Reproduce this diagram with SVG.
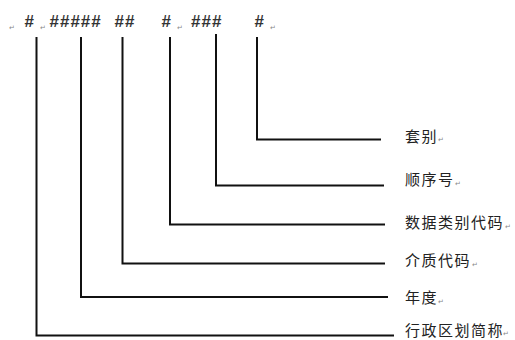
<svg xmlns="http://www.w3.org/2000/svg" width="515" height="340" viewBox="0 0 515 340">
<style>
.hash{font-family:"Liberation Sans",Arial,sans-serif;font-size:17px;font-weight:bold;letter-spacing:1px;fill:#333}
.ret{font-family:"DejaVu Sans",sans-serif;font-size:7px;fill:#888}
.lbl{font-family:"Noto Sans CJK SC","Noto Sans",sans-serif;font-size:15px;letter-spacing:1.5px;fill:#222}
.ln{fill:none;stroke:#111;stroke-width:2;stroke-linejoin:miter}
</style>
<rect width="515" height="340" fill="#fff"/>
<g id="header">
<text class="ret" x="9" y="30">↵</text>
<text class="hash" x="24.5" y="27">#</text>
<text class="ret" x="40" y="30">↵</text>
<text class="hash" x="49.5" y="27">#####</text>
<text class="hash" x="114.5" y="27">##</text>
<text class="hash" x="161.5" y="27">#</text>
<text class="ret" x="177" y="30">↵</text>
<text class="hash" x="191" y="27">###</text>
<text class="hash" x="254.5" y="27">#</text>
<text class="ret" x="270" y="30">↵</text>
</g>
<g id="connectors">
<polyline class="ln" points="36.5,37 36.5,335.5 394,335.5"/>
<polyline class="ln" points="81,37 81,297 388,297"/>
<polyline class="ln" points="122.5,37 122.5,263.5 385,263.5"/>
<polyline class="ln" points="170,37 170,224.5 385,224.5"/>
<polyline class="ln" points="216,34 216,185.5 384,185.5"/>
<polyline class="ln" points="257,37 257,139.5 381,139.5"/>
</g>
<g id="node-taobie">
<text class="lbl" x="405" y="141.5">套别</text><text class="ret" x="438" y="142">↵</text>
</g>
<g id="node-shunxuhao">
<text class="lbl" x="405" y="185">顺序号</text><text class="ret" x="455" y="186">↵</text>
</g>
<g id="node-shujuleibie">
<text class="lbl" x="405" y="228">数据类别代码</text><text class="ret" x="505" y="229">↵</text>
</g>
<g id="node-jiezhi">
<text class="lbl" x="405" y="266">介质代码</text><text class="ret" x="472" y="267">↵</text>
</g>
<g id="node-niandu">
<text class="lbl" x="405" y="303">年度</text><text class="ret" x="438" y="304">↵</text>
</g>
<g id="node-xingzheng">
<text class="lbl" x="405" y="336" font-size="14.5">行政区划简称</text><text class="ret" x="503" y="336">↵</text>
</g>
</svg>
